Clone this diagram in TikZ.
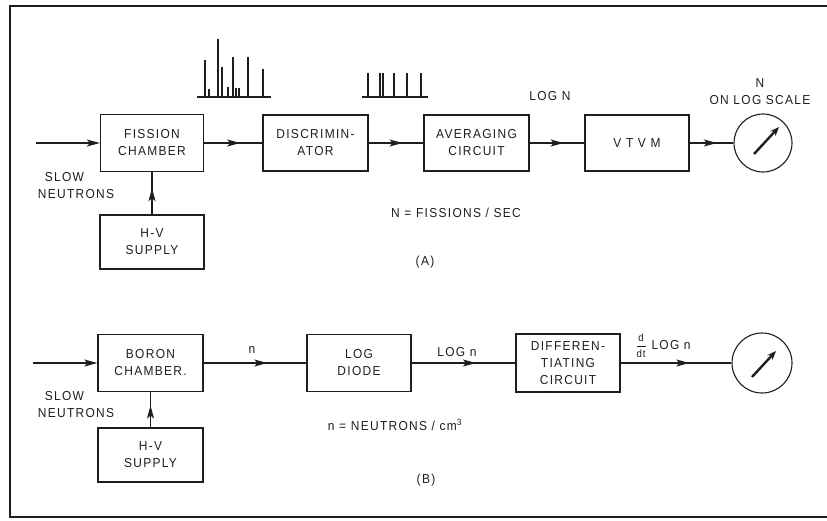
\documentclass[tikz,border=0pt]{standalone}
\usepackage{amsmath}
\usepackage{fontspec}
\setmainfont{Liberation Sans}[LetterSpace=10, FakeStretch=0.92]
\usetikzlibrary{arrows.meta,calc,decorations.markings}
\definecolor{cInk}{HTML}{1E1E1E}
\tikzset{
  blk/.style={draw=cInk, line width=1.3pt, align=center, inner sep=2pt,
              text=cInk, font=\fontsize{13}{17}\selectfont},
  mtr/.style={circle, draw=cInk, line width=1.1pt, minimum size=58pt, inner sep=0pt},
  ar/.style={-{Stealth[length=13pt,width=7pt,inset=3pt]}, line width=1.3pt, cInk},
  mid/.style={draw=cInk, line width=1.3pt, postaction={decorate},
              decoration={markings, mark=at position 0.62 with {\arrow[cInk]{Stealth[length=13pt,width=7pt,inset=3pt]}}}},
  needle/.style={-{Stealth[length=9pt,width=7pt]}, line width=2.4pt, cInk},
  lbl/.style={text=cInk, align=center, inner sep=0pt, font=\fontsize{13}{17}\selectfont},
  spk/.style={draw=cInk, line width=1.1pt},
}
\newcommand{\smallfr}{\fontsize{10.5}{11}\selectfont}

\begin{document}
\begin{tikzpicture}[x=1pt, y=-1pt]
    \useasboundingbox (0,0) rectangle (827,520);
    \draw[line width=1.8pt, cInk] (827,6) -- (10,6) -- (10,517) -- (827,517);

    % --- (A) fission chamber chain ---
    \coordinate (inA) at (36,143);
    \node[blk, minimum width=103pt, minimum height=57pt] (fc)   at (152,143) {FISSION\\CHAMBER};
    \node[blk, minimum width=104pt, minimum height=54pt] (hvA)  at (152,242) {H-V\\SUPPLY};
    \node[blk, minimum width=105pt, minimum height=56pt] (disc) at (315.5,143) {DISCRIMIN-\\ATOR};
    \node[blk, minimum width=105pt, minimum height=56pt] (avg)  at (476.5,143) {AVERAGING\\CIRCUIT};
    \node[blk, minimum width=104pt, minimum height=56pt] (vtvm) at (637,143) {V T V M};
    \node[mtr] (mA) at (763,143) {};
    \draw[ar] (inA) -- (fc);
    \draw[mid] (hvA) -- (fc);
    \draw[mid] (fc) -- (disc);
    \draw[mid] (disc) -- (avg);
    \draw[mid] (avg) -- (vtvm);
    \draw[mid] (vtvm) -- (mA);
    \draw[needle] ($(mA.center)+(-9,11)$) -- ($(mA.center)+(16,-16)$);

    \node[lbl, align=left] (slowA) at (76,186) {\hspace*{7pt}SLOW\\NEUTRONS};
    \node[lbl] (logN)  at (550,96) {LOG N};
    \node[lbl] (scale) at (760,92) {N\\ON LOG SCALE};
    \node[lbl] (defA)  at (456,213) {N = FISSIONS / SEC};
    \node[lbl] (capA)  at (425,262) {(A)};

    % pulses before and after the discriminator
    \draw[spk] (197,97) -- (271,97)
      (205,97) -- (205,60) (209,97) -- (209,89) (218,97) -- (218,39)
      (222,97) -- (222,67) (228,97) -- (228,87) (233,97) -- (233,57)
      (236,97) -- (236,88) (239,97) -- (239,88) (248,97) -- (248,57)
      (263,97) -- (263,69);
    \draw[spk] (362,97) -- (428,97)
      (368,97) -- (368,73) (380,97) -- (380,73) (383,97) -- (383,73)
      (394,97) -- (394,73) (407,97) -- (407,73) (421,97) -- (421,73);

    % --- (B) boron chamber chain ---
    \coordinate (inB) at (33,363);
    \node[blk, minimum width=105pt, minimum height=57pt] (bc)   at (150.5,363) {BORON\\CHAMBER.};
    \node[blk, minimum width=105pt, minimum height=54pt] (hvB)  at (150.5,455) {H-V\\SUPPLY};
    \node[blk, minimum width=104pt, minimum height=57pt] (ld)   at (359,363) {LOG\\DIODE};
    \node[blk, minimum width=104pt, minimum height=58pt] (diff) at (568,363) {DIFFEREN-\\TIATING\\CIRCUIT};
    \node[mtr, minimum size=60pt] (mB) at (762,363) {};
    \draw[ar] (inB) -- (bc);
    \draw[mid] (hvB) -- (bc);
    \draw[mid] (bc) -- (ld);
    \draw[mid] (ld) -- (diff);
    \draw[mid] (diff) -- (mB);
    \draw[needle] ($(mB.center)+(-10,14)$) -- ($(mB.center)+(14,-12)$);

    \node[lbl, align=left] (slowB) at (76,405) {\hspace*{7pt}SLOW\\NEUTRONS};
    \node[lbl] (nlbl)  at (252,350) {n};
    \node[lbl] (logn)  at (457,352) {LOG n};
    \node[lbl] (dlog)  at (663,346) {$\dfrac{\text{\smallfr d}}{\text{\smallfr dt}}$ LOG n};
    \node[lbl] (defB)  at (395,425) {n = NEUTRONS / cm\textsuperscript{3}};
    \node[lbl] (capB)  at (426,480) {(B)};
\end{tikzpicture}
\end{document}
